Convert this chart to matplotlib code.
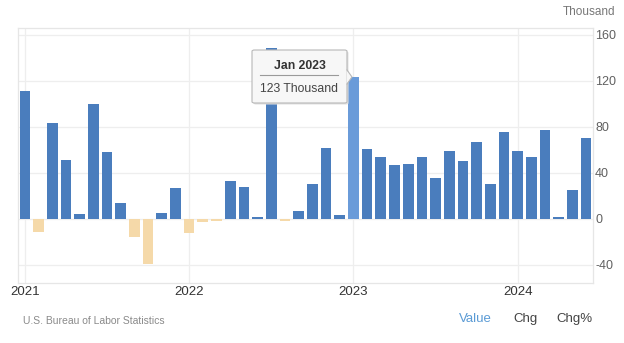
import matplotlib
matplotlib.use("Agg")
import matplotlib.pyplot as plt
from matplotlib.patches import FancyBboxPatch, Polygon
from matplotlib.lines import Line2D

plt.rcParams['font.family'] = ['Liberation Sans', 'DejaVu Sans']

# Monthly change, thousands, Jan 2021 .. Jun 2024
months = [f"{m} {y}" for y in (2021, 2022, 2023, 2024)
          for m in ("Jan", "Feb", "Mar", "Apr", "May", "Jun",
                    "Jul", "Aug", "Sep", "Oct", "Nov", "Dec")][:42]
values = [111, -11, 83, 51, 4, 100, 58, 14, -16, -39, 5, 27,
          -12, -3, -2, 33, 28, 2, 149, -2, 7, 30, 62, 3,
          123, 61, 54, 47, 48, 54, 36, 59, 50, 67, 30, 76,
          59, 54, 77, 2, 25, 70]
year_labels = ["2021", "2022", "2023", "2024"]
y_ticks = [-40, 0, 40, 80, 120, 160]
highlight = "Jan 2023"

BLUE = "#4a7dbd"
BEIGE = "#f5d9a9"
HILITE = "#6a9bd9"
GRID = "#eeeeee"

W, H = 624, 343
fig = plt.figure(figsize=(W / 100, H / 100), dpi=100)
ax = fig.add_axes([18 / W, 1 - 283 / H, (593 - 18) / W, (283 - 28) / H])

x = list(range(len(values)))
colors = []
for m, v in zip(months, values):
    if m == highlight:
        colors.append(HILITE)
    elif v < 0:
        colors.append(BEIGE)
    else:
        colors.append(BLUE)
ax.bar(x, values, width=0.78, color=colors, zorder=2)

ax.set_xlim(-0.5, len(values) - 0.5)
ax.set_ylim(-55.7, 166)

ax.set_yticks(y_ticks)
ax.set_yticklabels([str(t) for t in y_ticks])
ax.yaxis.tick_right()
ax.tick_params(axis="y", length=0, pad=1.5, labelsize=9, labelcolor="#606060")
ax.set_xticks([0, 12, 24, 36])
ax.set_xticklabels(year_labels)
ax.tick_params(axis="x", length=0, pad=2, labelsize=9.5, labelcolor="#333333")

ax.grid(True, color=GRID, linewidth=0.9, zorder=0)
for s in ax.spines.values():
    s.set_color("#e6e6e6")
    s.set_linewidth(0.9)

# unit label
fig.text(615 / W, 1 - 12 / H, "Thousand", ha="right", va="center",
         fontsize=8.5, color="#777777")

# hover tooltip for the highlighted month
hi = months.index(highlight)
bx0, bx1, by0, by1 = 252, 347, 50, 103
shadow = FancyBboxPatch((bx0 / W + 1.5 / W, 1 - by1 / H - 1.5 / H),
                        (bx1 - bx0) / W, (by1 - by0) / H,
                        boxstyle="round,pad=0,rounding_size=0.004",
                        transform=fig.transFigure, facecolor="#e0e0e0",
                        edgecolor="none", zorder=9)
box = FancyBboxPatch((bx0 / W, 1 - by1 / H), (bx1 - bx0) / W, (by1 - by0) / H,
                     boxstyle="round,pad=0,rounding_size=0.004",
                     transform=fig.transFigure, facecolor="#f7f7f7",
                     edgecolor="#b8b8b8", linewidth=0.8, zorder=10)
fig.add_artist(shadow)
fig.add_artist(box)
arrow = Polygon([(bx1 / W - 0.5 / W, 1 - 70 / H), (352 / W, 1 - 77 / H),
                 (bx1 / W - 0.5 / W, 1 - 84 / H)], closed=True,
                transform=fig.transFigure, facecolor="#f7f7f7",
                edgecolor="none", zorder=11)
fig.add_artist(arrow)
fig.add_artist(Line2D([bx1 / W, 352 / W, bx1 / W],
                      [1 - 70 / H, 1 - 77 / H, 1 - 84 / H],
                      transform=fig.transFigure, color="#b8b8b8",
                      linewidth=0.8, zorder=11))
cx = (bx0 + bx1) / 2
fig.text(cx / W, 1 - 66 / H, highlight, ha="center", va="center",
         fontsize=8.8, fontweight="bold", color="#333333", zorder=12)
fig.add_artist(Line2D([260 / W, 338 / W], [1 - 74.5 / H, 1 - 74.5 / H],
                      transform=fig.transFigure, color="#9a9a9a",
                      linewidth=0.8, zorder=12))
fig.text(cx / W, 1 - 89 / H, f"{values[hi]} Thousand", ha="center",
         va="center", fontsize=8.8, color="#444444", zorder=12)

# footer
fig.text(23 / W, 1 - 321 / H, "U.S. Bureau of Labor Statistics",
         ha="left", va="center", fontsize=7.5, color="#8a8a8a")
fig.text(475 / W, 1 - 319 / H, "Value", ha="center", va="center",
         fontsize=9.5, color="#5b9bd5")
fig.text(525 / W, 1 - 319 / H, "Chg", ha="center", va="center",
         fontsize=9.5, color="#444444")
fig.text(574 / W, 1 - 319 / H, "Chg%", ha="center", va="center",
         fontsize=9.5, color="#444444")

fig.savefig("out.png", dpi=100)
